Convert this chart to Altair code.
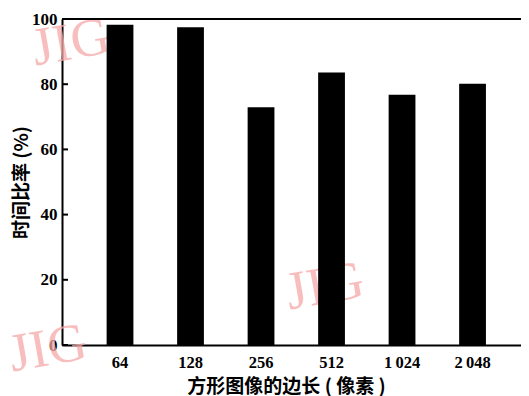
import altair as alt
import pandas as pd

categories = ["64", "128", "256", "512", "1\u2009024", "2\u2009048"]
ratios = [98.2, 97.5, 72.9, 83.6, 76.8, 80.1]
y_ticks = [0, 20, 40, 60, 80, 100]
x_title = "方形图像的边长 ( 像素 )"
y_title = "时间比率 (%)"
watermark = "JIG"

df = pd.DataFrame({"size": categories, "ratio": ratios})
ticks_df = pd.DataFrame({"t": y_ticks})

W, H = 459, 326

xscale = alt.Scale(domain=categories, paddingInner=0.62, paddingOuter=0.565, align=0.56)
yscale = alt.Scale(domain=[0, 100], nice=False)

serif = "Liberation Serif"
cjk = "Noto Sans CJK SC"

bars = alt.Chart(df).mark_bar(color="black").encode(
    x=alt.X("size:N", scale=xscale, sort=categories,
            axis=alt.Axis(title=x_title, labelAngle=0, ticks=False, tickSize=0,
                          labelPadding=9, labelBaseline="top",
                          labelFont=serif, labelFontSize=16.5, labelFontWeight="bold",
                          labelColor="black",
                          domainColor="black", domainWidth=2,
                          titleFont=cjk, titleFontSize=19, titleFontWeight="bold",
                          titleColor="black", titleX=224, titleY=41,
                          titleAlign="center", titleBaseline="middle")),
    y=alt.Y("ratio:Q", scale=yscale,
            axis=alt.Axis(title=y_title, values=y_ticks, ticks=False, tickSize=0,
                          labelPadding=5, grid=False,
                          labelFont=serif, labelFontSize=17, labelFontWeight="bold",
                          labelColor="black",
                          domainColor="black", domainWidth=2,
                          titleFont=cjk, titleFontSize=19, titleFontWeight="bold",
                          titleColor="black", titleAngle=-90, titleX=-41, titleY=163,
                          titleAlign="center", titleBaseline="middle")),
)

inner_ticks = alt.Chart(ticks_df).mark_rule(color="black", strokeWidth=2).encode(
    y=alt.Y("t:Q", scale=yscale),
    x=alt.value(0),
    x2=alt.value(6),
)

top_line = alt.Chart(ticks_df).mark_rule(color="black", strokeWidth=2).encode(
    y=alt.value(0), x=alt.value(0), x2=alt.value(W),
)

wm_df = pd.DataFrame({"w": [watermark]})

def wm(x, y):
    return alt.Chart(wm_df).mark_text(
        font=serif, fontSize=54, color="#f6a9a9", opacity=0.75, angle=350,
        align="center", baseline="middle",
    ).encode(text="w:N", x=alt.value(x), y=alt.value(y))

chart = alt.layer(
    wm(9, 24), wm(-14, 330), wm(263, 268),
    bars, inner_ticks, top_line,
).properties(
    width=W, height=H,
    autosize=alt.AutoSizeParams(type="none"),
    padding={"left": 54, "top": 11, "right": 0, "bottom": 51},
).configure_view(stroke=None)

chart.save("out.html", embed_options={"renderer": "svg", "actions": False})
